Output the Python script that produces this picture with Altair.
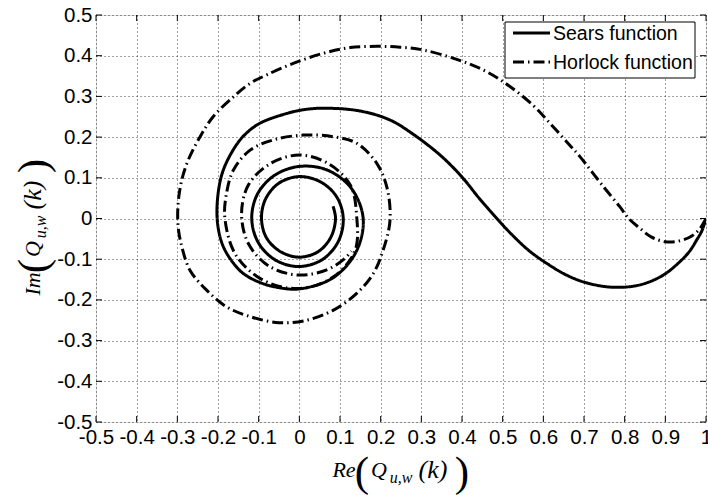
import altair as alt
import pandas as pd

# Sears function, traced from k = 0 at (1, 0) spiralling in towards the origin
SEARS_RE = [1.000, 0.990, 0.977, 0.960, 0.940, 0.895, 0.838, 0.772, 0.706, 0.657,
            0.608, 0.566, 0.524, 0.483, 0.442, 0.400, 0.346, 0.280, 0.223, 0.150,
            0.067, 0.015, -0.031, -0.097, -0.135, -0.163, -0.190, -0.202, -0.200, -0.187,
            -0.162, -0.138, -0.100, -0.060, 0.000, 0.084, 0.140, 0.157, 0.128, 0.069,
            0.000, -0.061, -0.103, -0.117, -0.101, -0.059, 0.000, 0.058, 0.096, 0.108,
            0.092, 0.052, 0.000, -0.050, -0.083, -0.093, -0.081, -0.047, 0.000, 0.047,
            0.078, 0.089, 0.083]
SEARS_IM = [0.000, -0.030, -0.053, -0.080, -0.102, -0.139, -0.163, -0.169, -0.158, -0.139,
            -0.110, -0.080, -0.041, 0.003, 0.050, 0.102, 0.156, 0.207, 0.242, 0.264,
            0.271, 0.268, 0.258, 0.234, 0.205, 0.168, 0.110, 0.037, -0.020, -0.069,
            -0.110, -0.135, -0.156, -0.168, -0.173, -0.145, -0.081, 0.000, 0.074, 0.119,
            0.128, 0.106, 0.060, 0.000, -0.059, -0.102, -0.118, -0.100, -0.056, 0.000,
            0.053, 0.090, 0.103, 0.087, 0.048, 0.000, -0.047, -0.081, -0.095, -0.081,
            -0.045, 0.000, 0.030]

# Horlock function, same orientation
HORLOCK_RE = [1.000, 0.985, 0.965, 0.935, 0.900, 0.865, 0.835, 0.810, 0.788, 0.748,
              0.690, 0.665, 0.620, 0.575, 0.510, 0.452, 0.387, 0.305, 0.248, 0.190,
              0.125, 0.059, -0.015, -0.080, -0.121, -0.162, -0.212, -0.244, -0.273, -0.289,
              -0.298, -0.298, -0.289, -0.269, -0.228, -0.179, -0.121, -0.050, 0.018, 0.084,
              0.141, 0.182, 0.206, 0.223, 0.215, 0.190, 0.141, 0.083, 0.010, -0.064,
              -0.121, -0.162, -0.179, -0.183, -0.156, -0.088, 0.000, 0.083, 0.137, 0.141,
              0.126, 0.073, 0.000, -0.073, -0.126, -0.142, -0.124, -0.073, 0.000, 0.070,
              0.112, 0.128]
HORLOCK_IM = [0.000, -0.025, -0.043, -0.055, -0.057, -0.045, -0.022, 0.000, 0.029, 0.078,
              0.152, 0.180, 0.230, 0.278, 0.330, 0.365, 0.391, 0.414, 0.421, 0.423,
              0.420, 0.406, 0.381, 0.353, 0.332, 0.299, 0.250, 0.201, 0.144, 0.095,
              0.037, -0.020, -0.069, -0.127, -0.176, -0.217, -0.241, -0.256, -0.250, -0.225,
              -0.184, -0.135, -0.078, -0.004, 0.078, 0.136, 0.185, 0.201, 0.205, 0.193,
              0.168, 0.119, 0.062, 0.000, -0.090, -0.152, -0.172, -0.144, -0.079, 0.005,
              0.081, 0.134, 0.156, 0.134, 0.081, 0.008, -0.064, -0.118, -0.139, -0.125,
              -0.098, -0.080]

SERIES = ["Sears function", "Horlock function"]
X_TICKS = [-0.5, -0.4, -0.3, -0.2, -0.1, 0, 0.1, 0.2, 0.3, 0.4, 0.5, 0.6, 0.7, 0.8, 0.9, 1]
Y_TICKS = [-0.5, -0.4, -0.3, -0.2, -0.1, 0, 0.1, 0.2, 0.3, 0.4, 0.5]

W, H = 610, 407
SOLID = [1, 0]
DASH_DOT = [11, 4, 1.5, 4]
DASHES = [SOLID, DASH_DOT]
SANS = "Liberation Sans"
SERIF = "Liberation Serif"

rows = []
for name, xs, ys in [(SERIES[0], SEARS_RE, SEARS_IM), (SERIES[1], HORLOCK_RE, HORLOCK_IM)]:
    for i, (a, b) in enumerate(zip(xs, ys)):
        rows.append({"series": name, "idx": i, "re": a, "im": b})
curves = pd.DataFrame(rows)

x_scale = alt.Scale(domain=[-0.5, 1.0], nice=False, zero=False)
y_scale = alt.Scale(domain=[-0.5, 0.5], nice=False, zero=False)

axis_common = dict(
    title=None, grid=True, ticks=False, domain=False,
    labelExpr="'' + datum.value", labelFlush=False, labelOverlap=False,
    labelFont=SANS, labelFontSize=20.5, labelColor="black",
    gridColor="black", gridOpacity=0.75, gridDash=[1, 3], gridWidth=1,
)
x_axis = alt.Axis(values=X_TICKS, labelPadding=5, **axis_common)
y_axis = alt.Axis(values=Y_TICKS, labelPadding=4, **axis_common)

lines = alt.Chart(curves).mark_line(
    strokeWidth=3, color="black", interpolate="catmull-rom", strokeCap="butt", clip=True
).encode(
    x=alt.X("re:Q", scale=x_scale, axis=x_axis),
    y=alt.Y("im:Q", scale=y_scale, axis=y_axis),
    strokeDash=alt.StrokeDash("series:N", scale=alt.Scale(domain=SERIES, range=DASHES), legend=None),
    detail="series:N",
    order=alt.Order("idx:Q"),
)

# inward tick marks on all four sides of the box
xt = pd.DataFrame({"t": X_TICKS})
yt = pd.DataFrame({"t": Y_TICKS})
tick_len = 6
ticks = [
    alt.Chart(xt).mark_rule(color="black").encode(
        x=alt.X("t:Q", scale=x_scale, axis=x_axis), y=alt.value(H), y2=alt.value(H - tick_len)),
    alt.Chart(xt).mark_rule(color="black").encode(
        x=alt.X("t:Q", scale=x_scale, axis=x_axis), y=alt.value(0), y2=alt.value(tick_len)),
    alt.Chart(yt).mark_rule(color="black").encode(
        y=alt.Y("t:Q", scale=y_scale, axis=y_axis), x=alt.value(0), x2=alt.value(tick_len)),
    alt.Chart(yt).mark_rule(color="black").encode(
        y=alt.Y("t:Q", scale=y_scale, axis=y_axis), x=alt.value(W - tick_len), x2=alt.value(W)),
]


def piece(txt, x, y, size, italic=True, angle=0, font=SERIF, align="center"):
    props = dict(text=txt, font=font, fontSize=size, align=align, baseline="middle", color="black")
    if italic:
        props["fontStyle"] = "italic"
    if angle:
        props["angle"] = angle
    return alt.Chart(alt.Data(values=[{}])).mark_text(**props).encode(
        x=alt.value(x), y=alt.value(y))


# x-axis title: Re( Q_{u,w}(k) )
x_title = [
    piece("Re", 248, 455, 22),
    piece("(", 266, 458, 43, italic=False),
    piece("Q", 283, 455, 22),
    piece("u,w", 305, 463, 16),
    piece("(k)", 337, 455, 26),
    piece(")", 366, 458, 43, italic=False),
]

# y-axis title: Im( Q_{u,w}(k) ), reading upwards
y_title = [
    piece("Im", -63, 269, 22, angle=270),
    piece("(", -62, 251, 43, italic=False, angle=270),
    piece("Q", -63, 234, 22, angle=270),
    piece("u,w", -55, 212, 16, angle=270),
    piece("(k)", -63, 180, 26, angle=270),
    piece(")", -62, 151, 43, italic=False, angle=270),
]

# legend box in the upper-right corner
lx0, lx1, ly0, ly1 = 409, 599, 7, 63
legend = [
    alt.Chart(alt.Data(values=[{}])).mark_rect(fill="white", stroke="black", strokeWidth=1).encode(
        x=alt.value(lx0), x2=alt.value(lx1), y=alt.value(ly0), y2=alt.value(ly1)),
]
for i, name in enumerate(SERIES):
    yy = 18 + 29 * i
    legend.append(
        alt.Chart(alt.Data(values=[{}])).mark_rule(
            color="black", strokeWidth=3, strokeDash=DASHES[i], strokeCap="butt"
        ).encode(x=alt.value(417), x2=alt.value(454), y=alt.value(yy))
    )
    legend.append(piece(name, 457, yy + 1, 19.5, italic=False, font=SANS, align="left"))

chart = alt.layer(lines, *ticks, *legend, *x_title, *y_title).properties(
    width=W, height=H,
    autosize=alt.AutoSizeParams(type="none"),
    padding={"left": 96, "top": 15, "right": 2, "bottom": 73},
).configure_view(stroke="black", strokeWidth=1).configure(background="white")

chart.save("out.html", embed_options={"renderer": "svg", "actions": False})
